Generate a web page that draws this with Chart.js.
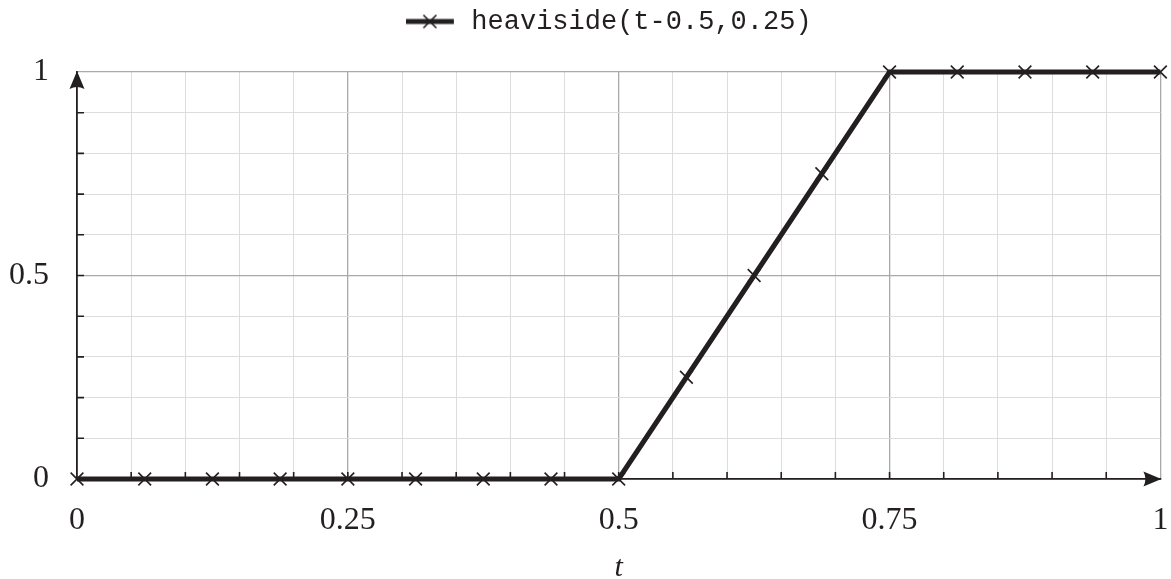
<!DOCTYPE html>
<html>
<head>
<meta charset="utf-8">
<script src="https://cdn.jsdelivr.net/npm/chart.js@4.4.1/dist/chart.umd.min.js"></script>
<style>
  html, body { margin: 0; padding: 0; background: #fff; }
  #wrap { width: 1171px; height: 579px; }
</style>
</head>
<body>
<div id="wrap"><canvas id="Chart" width="1171" height="579"></canvas></div>
<script>
// values
const seriesLabel = "heaviside(t-0.5,0.25)";
const tValues = [0, 0.0625, 0.125, 0.1875, 0.25, 0.3125, 0.375, 0.4375, 0.5,
  0.5625, 0.625, 0.6875, 0.75, 0.8125, 0.875, 0.9375, 1];
const hValues = [0, 0, 0, 0, 0, 0, 0, 0, 0, 0.25, 0.5, 0.75, 1, 1, 1, 1, 1];
const xTickLabels = ["0", "0.25", "0.5", "0.75", "1"];
const yTickLabels = ["0", "0.5", "1"];

const INK = "#231f20";
const MAJOR = "#a9a9a9";
const MINOR = "#dddddd";

const near = (v, list) => list.some((s) => Math.abs(Number(s) - v) < 1e-6);

// legend sample: thick line with a rotated cross in the middle
function legendSample() {
  const c = document.createElement("canvas");
  c.width = 52;
  c.height = 20;
  const g = c.getContext("2d");
  g.strokeStyle = INK;
  g.lineWidth = 5;
  g.beginPath();
  g.moveTo(0, 10);
  g.lineTo(48, 10);
  g.stroke();
  g.lineWidth = 1.6;
  g.beginPath();
  g.moveTo(24 - 6.5, 10 - 6.5);
  g.lineTo(24 + 6.5, 10 + 6.5);
  g.moveTo(24 - 6.5, 10 + 6.5);
  g.lineTo(24 + 6.5, 10 - 6.5);
  g.stroke();
  return c;
}

// inward minor ticks and arrow heads on the axes
const axisDecor = {
  id: "axisDecor",
  afterLayout(chart) {
    // legend sits a little left of the plot centre in the original
    if (chart.legend) chart.legend.left -= 20;
  },
  beforeDatasetsDraw(chart) {
    const { ctx, scales } = chart;
    const x = scales.x, y = scales.y;
    const x0 = x.getPixelForValue(0), x1 = x.getPixelForValue(1);
    const y0 = y.getPixelForValue(0), y1 = y.getPixelForValue(1);
    ctx.save();
    ctx.strokeStyle = INK;
    ctx.lineWidth = 1.6;
    ctx.beginPath();
    x.ticks.forEach((t) => {
      if (t.value <= 0 || t.value >= 1) return;
      const px = x.getPixelForValue(t.value);
      ctx.moveTo(px, y0);
      ctx.lineTo(px, y0 - 7);
    });
    y.ticks.forEach((t) => {
      if (t.value <= 0 || t.value >= 1) return;
      const py = y.getPixelForValue(t.value);
      ctx.moveTo(x0, py);
      ctx.lineTo(x0 + 7, py);
    });
    ctx.stroke();

    ctx.fillStyle = INK;
    // up arrow on y axis
    ctx.beginPath();
    ctx.moveTo(x0, y1 - 1);
    ctx.lineTo(x0 + 7.5, y1 + 17);
    ctx.quadraticCurveTo(x0, y1 + 13, x0 - 7.5, y1 + 17);
    ctx.closePath();
    ctx.fill();
    // right arrow on x axis
    ctx.beginPath();
    ctx.moveTo(x1 + 1, y0);
    ctx.lineTo(x1 - 17, y0 - 7.5);
    ctx.quadraticCurveTo(x1 - 13, y0, x1 - 17, y0 + 7.5);
    ctx.closePath();
    ctx.fill();
    ctx.restore();
  },
};

const points = tValues.map((t, i) => ({ x: t, y: hValues[i] }));

const serif = "'Liberation Serif', 'DejaVu Serif', serif";

new Chart(document.getElementById("Chart"), {
  type: "scatter",
  data: {
    datasets: [
      {
        label: seriesLabel,
        data: points,
        showLine: true,
        borderColor: INK,
        backgroundColor: INK,
        borderWidth: 5,
        pointStyle: "crossRot",
        pointRadius: 9,
        pointBorderWidth: 1.6,
        pointBorderColor: INK,
        pointHoverRadius: 9,
        tension: 0,
        clip: false,
      },
    ],
  },
  options: {
    responsive: false,
    animation: false,
    layout: { padding: { top: 0, right: 9, left: 0, bottom: 0 } },
    plugins: {
      tooltip: { enabled: false },
      legend: {
        position: "top",
        fullSize: false,
        labels: {
          usePointStyle: true,
          pointStyle: legendSample(),
          pointStyleWidth: 52,
          color: INK,
          padding: 8,
          font: { family: "'Liberation Mono', 'DejaVu Sans Mono', monospace", size: 27 },
        },
      },
      // empty title used as a spacer between legend and plot
      title: {
        display: true,
        text: " ",
        position: "top",
        weight: 500,
        padding: { top: 26, bottom: 0 },
        font: { size: 1, lineHeight: 1 },
      },
    },
    scales: {
      x: {
        type: "linear",
        min: 0,
        max: 1,
        ticks: {
          stepSize: 0.05,
          autoSkip: false,
          maxRotation: 0,
          padding: 22,
          color: INK,
          font: { family: serif, size: 32 },
          callback: (v) => (near(v, xTickLabels) ? String(+v.toFixed(4)) : ""),
        },
        grid: {
          drawTicks: false,
          color: (c) => (c.tick && near(c.tick.value, xTickLabels) ? MAJOR : MINOR),
          lineWidth: (c) => (c.tick && near(c.tick.value, xTickLabels) ? 1.3 : 1),
        },
        border: { color: INK, width: 1.8 },
        title: {
          display: true,
          text: "t",
          color: INK,
          padding: { top: 0, bottom: 2 },
          font: { family: serif, size: 30, style: "italic", lineHeight: 0.6 },
        },
        afterFit: (s) => {
          s.height = 100;
          s.paddingRight = 0;
        },
      },
      y: {
        type: "linear",
        min: 0,
        max: 1,
        ticks: {
          stepSize: 0.1,
          autoSkip: false,
          padding: 28,
          color: INK,
          font: { family: serif, size: 32 },
          callback: (v) => (near(v, yTickLabels) ? String(+v.toFixed(4)) : ""),
        },
        grid: {
          drawTicks: false,
          color: (c) => (c.tick && near(c.tick.value, yTickLabels) ? MAJOR : MINOR),
          lineWidth: (c) => (c.tick && near(c.tick.value, yTickLabels) ? 1.3 : 1),
        },
        border: { color: INK, width: 1.8 },
        afterFit: (s) => { s.width = 77; },
      },
    },
  },
  plugins: [axisDecor],
});
</script>
</body>
</html>
